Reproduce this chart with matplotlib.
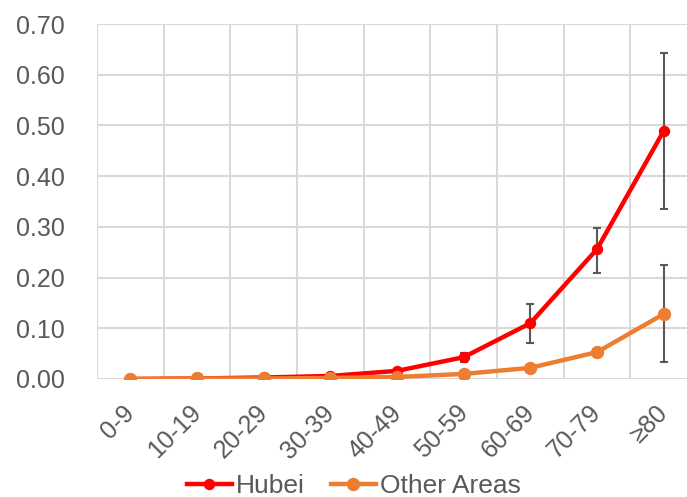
import matplotlib.pyplot as plt
import matplotlib.transforms as mtransforms

plt.rcParams['font.family'] = ['Liberation Sans', 'DejaVu Sans']

ages = ['0-9', '10-19', '20-29', '30-39', '40-49', '50-59', '60-69', '70-79', '≥80']
hubei = [0.000, 0.001, 0.003, 0.006, 0.016, 0.043, 0.110, 0.256, 0.489]
hubei_lo = [0.000, 0.000, 0.000, 0.000, 0.000, 0.009, 0.039, 0.047, 0.154]
hubei_hi = [0.000, 0.000, 0.000, 0.000, 0.000, 0.009, 0.038, 0.042, 0.154]
other = [0.000, 0.001, 0.001, 0.002, 0.004, 0.010, 0.022, 0.053, 0.128]
other_lo = [0.000, 0.000, 0.000, 0.000, 0.000, 0.000, 0.000, 0.009, 0.095]
other_hi = [0.000, 0.000, 0.000, 0.000, 0.000, 0.000, 0.000, 0.005, 0.097]

grey = '#595959'
fig = plt.figure(figsize=(6.87, 4.97), dpi=100)
ax = fig.add_axes([97 / 687, 1 - 379 / 497, 600 / 687, 355 / 497])

x = list(range(len(ages)))
ax.errorbar(x, hubei, yerr=[hubei_lo, hubei_hi], fmt='none', ecolor=grey, elinewidth=1.5,
            capsize=3, capthick=1.5, zorder=2)
ax.errorbar(x, other, yerr=[other_lo, other_hi], fmt='none', ecolor=grey, elinewidth=1.5,
            capsize=3, capthick=1.5, zorder=2)
ax.plot(x, hubei, color='#FF0000', lw=3.2, marker='o', ms=7.2, label='Hubei', zorder=3)
ax.plot(x, other, color='#ED7D31', lw=3.2, marker='o', ms=8.6, label='Other Areas', zorder=3)

ax.set_xlim(-0.5, 8.5)
ax.set_ylim(0, 0.70)
ax.set_yticks([i / 10 for i in range(8)])
ax.set_yticklabels([f'{i / 10:.2f}' for i in range(8)])
ax.set_xticks(x)
ax.set_xticklabels(ages, rotation=45, ha='right', va='top', rotation_mode='anchor')
ax.set_xticks([i - 0.5 for i in range(10)], minor=True)
ax.grid(True, which='minor', axis='x', color='#D9D9D9', lw=1.5)
ax.grid(True, which='major', axis='y', color='#D9D9D9', lw=1.5)
ax.set_axisbelow(True)
for s in ax.spines.values():
    s.set_visible(False)
ax.tick_params(which='both', length=0, colors=grey, labelsize=18)
ax.tick_params(axis='y', pad=23)
ax.tick_params(axis='x', pad=12)

# nudge rotated labels left/down a bit
shift = mtransforms.ScaledTranslation(-8 / 100, -5 / 100, fig.dpi_scale_trans)
for lab in ax.get_xticklabels():
    lab.set_transform(lab.get_transform() + shift)

fig.legend(loc='lower center', bbox_to_anchor=(0.515, -0.05), ncol=2, frameon=False,
           fontsize=19, labelcolor=grey, handlelength=1.7, handletextpad=0.15,
           columnspacing=1.0)

fig.savefig('out.png', dpi=100)
